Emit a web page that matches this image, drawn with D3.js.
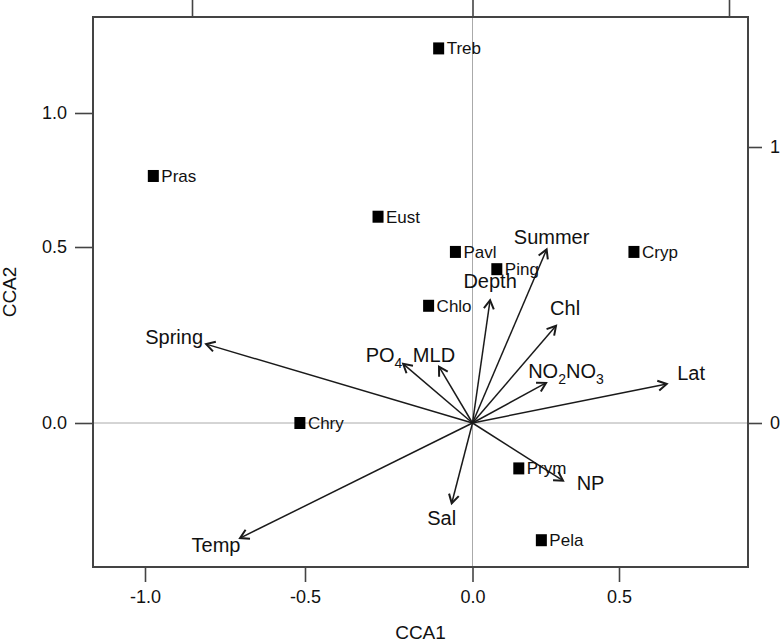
<!DOCTYPE html>
<html>
<head>
<meta charset="utf-8">
<script src="https://cdn.jsdelivr.net/npm/d3@7.9.0/dist/d3.min.js"></script>
<style>
  body { margin: 0; background: #fff; }
  svg { display: block; font-family: "Liberation Sans", Arial, Helvetica, sans-serif; }
</style>
</head>
<body>
<svg id="chart" width="783" height="643"></svg>
<script>
// species scores (CCA1, CCA2)
const species  = ['Treb', 'Pras', 'Eust', 'Pavl', 'Ping', 'Cryp', 'Chlo', 'Chry', 'Prym', 'Pela'];
const speciesX = [-0.101, -0.974, -0.282, -0.051, 0.083, 0.551, -0.131, -0.516, 0.158, 0.235];
const speciesY = [1.241, 0.765, 0.613, 0.486, 0.437, 0.486, 0.333, 0.0, -0.129, -0.333];

// environmental variables (arrow tips) and where their labels sit
const variables = ['Spring', 'Temp', 'PO4', 'MLD', 'Depth', 'Summer', 'Chl', 'NO2NO3', 'Lat', 'NP', 'Sal'];
const arrowX = [-0.809, -0.703, -0.207, -0.100, 0.060, 0.253, 0.285, 0.251, 0.663, 0.309, -0.062];
const arrowY = [0.224, -0.327, 0.168, 0.160, 0.349, 0.493, 0.276, 0.114, 0.111, -0.164, -0.228];
const labelX = [-0.909, -0.778, -0.264, -0.115, 0.060, 0.270, 0.316, 0.319, 0.746, 0.403, -0.092];
const labelY = [0.244, -0.347, 0.193, 0.193, 0.402, 0.537, 0.327, 0.148, 0.142, -0.170, -0.270];

// ticks
const xTicks = [-1.0, -0.5, 0.0, 0.5];
const yTicks = [0.0, 0.5, 1.0];
const topTicks = [-1, 0, 1];
const rightTicks = [0, 1];

const box = { left: 93, right: 748, top: 17, bottom: 567 };
const svg = d3.select('#chart');

// the printed figure is not evenly spaced, so the scales are piecewise
const x = d3.scaleLinear().domain(xTicks).range([145, 305, 472.5, 619]);
const y = d3.scaleLinear().domain(yTicks).range([423, 247, 113]);
// biplot (arrow) scale shown on top / right
const xBi = d3.scaleLinear().domain(topTicks).range([192, 472.5, 729]);
const yBi = d3.scaleLinear().domain(rightTicks).range([423, 147]);

const axisColor = '#444';
const ink = '#111';
const fmt = d => d.toFixed(1);

function styleAxis(g, size) {
  g.select('.domain').remove();
  g.selectAll('.tick line').attr('stroke', axisColor).attr('stroke-width', 1.6);
  g.selectAll('.tick text').attr('fill', ink).style('font-size', size + 'px');
}

// zero lines
svg.append('line')
  .attr('x1', box.left).attr('x2', box.right)
  .attr('y1', y(0)).attr('y2', y(0))
  .attr('stroke', '#aaa').attr('stroke-width', 1);
svg.append('line')
  .attr('x1', x(0)).attr('x2', x(0))
  .attr('y1', box.top).attr('y2', box.bottom)
  .attr('stroke', '#aaa').attr('stroke-width', 1);

// axes
svg.append('g')
  .attr('transform', `translate(0,${box.bottom})`)
  .call(d3.axisBottom(x).tickValues(xTicks).tickFormat(fmt).tickSize(15).tickPadding(8))
  .call(g => styleAxis(g, 18));

svg.append('g')
  .attr('transform', `translate(${box.left},0)`)
  .call(d3.axisLeft(y).tickValues(yTicks).tickFormat(fmt).tickSize(18).tickPadding(8))
  .call(g => styleAxis(g, 18));

svg.append('g')
  .attr('transform', `translate(0,${box.top})`)
  .call(d3.axisTop(xBi).tickValues(topTicks).tickFormat('').tickSize(18))
  .call(g => styleAxis(g, 18));

svg.append('g')
  .attr('transform', `translate(${box.right},0)`)
  .call(d3.axisRight(yBi).tickValues(rightTicks).tickFormat(d3.format('d')).tickSize(14).tickPadding(8))
  .call(g => styleAxis(g, 18));

// frame
svg.append('rect')
  .attr('x', box.left).attr('y', box.top)
  .attr('width', box.right - box.left).attr('height', box.bottom - box.top)
  .attr('fill', 'none').attr('stroke', axisColor).attr('stroke-width', 2);

// axis titles
svg.append('text')
  .attr('x', (box.left + box.right) / 2).attr('y', 639)
  .attr('text-anchor', 'middle').attr('fill', ink)
  .style('font-size', '19px')
  .text('CCA1');
svg.append('text')
  .attr('transform', `translate(16,${(box.top + box.bottom) / 2}) rotate(-90)`)
  .attr('text-anchor', 'middle').attr('fill', ink)
  .style('font-size', '19px')
  .text('CCA2');

// arrows
const ox = x(0), oy = y(0);
const arrows = variables.map((name, i) => ({
  name, tx: x(arrowX[i]), ty: y(arrowY[i]), lx: x(labelX[i]), ly: y(labelY[i])
}));

function headPath(d) {
  const a = Math.atan2(d.ty - oy, d.tx - ox);
  const len = 10, spread = Math.PI / 6;
  const p1 = [d.tx - len * Math.cos(a - spread), d.ty - len * Math.sin(a - spread)];
  const p2 = [d.tx - len * Math.cos(a + spread), d.ty - len * Math.sin(a + spread)];
  return `M${p1[0]},${p1[1]}L${d.tx},${d.ty}L${p2[0]},${p2[1]}`;
}

const ag = svg.append('g').attr('class', 'arrows')
  .attr('stroke', '#1a1a1a').attr('stroke-width', 1.5).attr('fill', 'none');
ag.selectAll('line')
  .data(arrows)
  .join('line')
  .attr('x1', ox).attr('y1', oy)
  .attr('x2', d => d.tx).attr('y2', d => d.ty);
ag.selectAll('path')
  .data(arrows)
  .join('path')
  .attr('d', headPath)
  .attr('stroke-width', 2);

// arrow labels, digits become subscripts
const lab = svg.append('g').attr('class', 'arrow-labels')
  .selectAll('text')
  .data(arrows)
  .join('text')
  .attr('x', d => d.lx).attr('y', d => d.ly)
  .attr('dy', '0.35em')
  .attr('text-anchor', 'middle')
  .attr('fill', ink)
  .style('font-size', '20px');

lab.each(function (d) {
  const t = d3.select(this);
  const parts = d.name.split(/(\d)/).filter(p => p !== '');
  let shifted = false;
  parts.forEach(p => {
    const isSub = /^\d$/.test(p);
    const span = t.append('tspan').text(p);
    if (isSub) {
      span.attr('dy', 6).style('font-size', '14px');
      shifted = true;
    } else if (shifted) {
      span.attr('dy', -6);
      shifted = false;
    }
  });
});

// species points
const pts = species.map((name, i) => ({ name, cx: x(speciesX[i]), cy: y(speciesY[i]) }));
const sg = svg.append('g').attr('class', 'species');
sg.selectAll('rect')
  .data(pts)
  .join('rect')
  .attr('x', d => d.cx - 5.5).attr('y', d => d.cy - 6)
  .attr('width', 11).attr('height', 12)
  .attr('fill', '#000');
sg.selectAll('text')
  .data(pts)
  .join('text')
  .attr('x', d => d.cx + 8).attr('y', d => d.cy)
  .attr('dy', '0.35em')
  .attr('fill', ink)
  .style('font-size', '17px')
  .text(d => d.name);
</script>
</body>
</html>
